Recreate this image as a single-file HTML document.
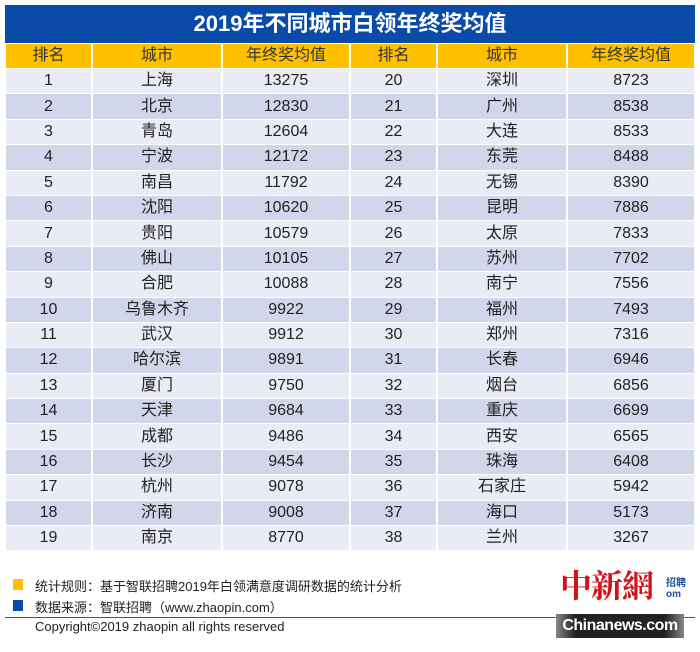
<!DOCTYPE html>
<html><head><meta charset="utf-8"><style>
body{margin:0;width:700px;height:652px;background:#fff;position:relative;overflow:hidden;font-family:"Liberation Sans","Noto Sans CJK SC",sans-serif}
.title{position:absolute;left:5px;top:5px;width:690px;height:38px;background:#0a4aa8;color:#fff;font-weight:bold;font-size:22px;line-height:38px;text-align:center}
table{position:absolute;left:4px;top:43px;width:692px;border-collapse:separate;border-spacing:2px 1px}
td{text-align:center;font-size:16px;color:#222;height:24.4px;padding:0;line-height:24px}
tr.h td{background:#ffc000;height:23px;color:#333}
tr:nth-child(even) td{background:#e9ebf5}
tr:nth-child(odd):not(.h) td{background:#d1d6ea}
.f{position:absolute;font-size:13px;color:#222}
.sq{position:absolute;width:10px;height:11px}
</style></head><body>
<div class="title">2019年不同城市白领年终奖均值</div>
<table>
<colgroup><col style="width:85px"><col style="width:128px"><col style="width:126px"><col style="width:85px"><col style="width:128px"><col style="width:126px"></colgroup>
<tr class="h"><td>排名</td><td>城市</td><td>年终奖均值</td><td>排名</td><td>城市</td><td>年终奖均值</td></tr>
<tr><td>1</td><td>上海</td><td>13275</td><td>20</td><td>深圳</td><td>8723</td></tr>
<tr><td>2</td><td>北京</td><td>12830</td><td>21</td><td>广州</td><td>8538</td></tr>
<tr><td>3</td><td>青岛</td><td>12604</td><td>22</td><td>大连</td><td>8533</td></tr>
<tr><td>4</td><td>宁波</td><td>12172</td><td>23</td><td>东莞</td><td>8488</td></tr>
<tr><td>5</td><td>南昌</td><td>11792</td><td>24</td><td>无锡</td><td>8390</td></tr>
<tr><td>6</td><td>沈阳</td><td>10620</td><td>25</td><td>昆明</td><td>7886</td></tr>
<tr><td>7</td><td>贵阳</td><td>10579</td><td>26</td><td>太原</td><td>7833</td></tr>
<tr><td>8</td><td>佛山</td><td>10105</td><td>27</td><td>苏州</td><td>7702</td></tr>
<tr><td>9</td><td>合肥</td><td>10088</td><td>28</td><td>南宁</td><td>7556</td></tr>
<tr><td>10</td><td>乌鲁木齐</td><td>9922</td><td>29</td><td>福州</td><td>7493</td></tr>
<tr><td>11</td><td>武汉</td><td>9912</td><td>30</td><td>郑州</td><td>7316</td></tr>
<tr><td>12</td><td>哈尔滨</td><td>9891</td><td>31</td><td>长春</td><td>6946</td></tr>
<tr><td>13</td><td>厦门</td><td>9750</td><td>32</td><td>烟台</td><td>6856</td></tr>
<tr><td>14</td><td>天津</td><td>9684</td><td>33</td><td>重庆</td><td>6699</td></tr>
<tr><td>15</td><td>成都</td><td>9486</td><td>34</td><td>西安</td><td>6565</td></tr>
<tr><td>16</td><td>长沙</td><td>9454</td><td>35</td><td>珠海</td><td>6408</td></tr>
<tr><td>17</td><td>杭州</td><td>9078</td><td>36</td><td>石家庄</td><td>5942</td></tr>
<tr><td>18</td><td>济南</td><td>9008</td><td>37</td><td>海口</td><td>5173</td></tr>
<tr><td>19</td><td>南京</td><td>8770</td><td>38</td><td>兰州</td><td>3267</td></tr>
</table>
<div class="sq" style="left:13px;top:579px;background:#ffc000"></div>
<div class="f" style="left:35px;top:576px">统计规则：基于智联招聘2019年白领满意度调研数据的统计分析</div>
<div class="sq" style="left:13px;top:600px;background:#0a4aa8"></div>
<div class="f" style="left:35px;top:597px">数据来源：智联招聘（www.zhaopin.com）</div>
<div style="position:absolute;left:5px;top:617px;width:690px;height:1px;background:#555"></div>
<div class="f" style="left:35px;top:619px">Copyright©2019 zhaopin all rights reserved</div>
<div style="position:absolute;left:560px;top:564px;font-size:32px;color:#d0121b;font-family:'Noto Serif CJK SC',serif;font-weight:bold;letter-spacing:-1px;line-height:40px">中新網</div>
<div style="position:absolute;left:666px;top:578px;font-size:10px;color:#1b4fa0;font-weight:bold;line-height:11px">招聘<br>om</div>
<div style="position:absolute;left:556px;top:614px;width:128px;height:24px;background:linear-gradient(90deg,#888,#222 15%,#222 85%,#888);color:#fff;font-weight:bold;font-size:16px;letter-spacing:-0.5px;line-height:24px;text-align:center">Chinanews.com</div>
</body></html>
